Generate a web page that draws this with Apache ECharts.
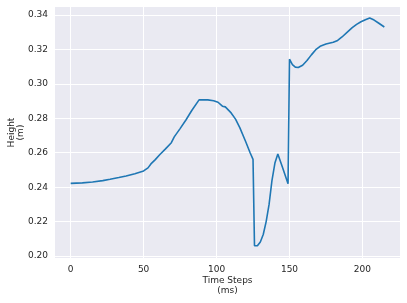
<!DOCTYPE html>
<html>
<head>
<meta charset="utf-8">
<script src="https://cdn.jsdelivr.net/npm/echarts@6/dist/echarts.min.js"></script>
<style>
html,body{margin:0;padding:0;background:#fff;}
#c{width:407px;height:303px;}
</style>
</head>
<body>
<div id="c"></div>
<script>
const timeSteps = [0, 8, 15, 22, 27, 33, 38, 44, 50, 53, 55, 58, 61, 65, 69, 71, 75, 79, 83, 88, 94, 98, 101, 104, 105, 106, 110, 113, 116, 120, 123, 125, 126, 128, 130, 132, 134, 136, 138, 140, 142, 145, 149, 150, 152, 154, 156, 159, 162, 165, 168, 171, 175, 180, 183, 186, 190, 193, 196, 199, 202, 205, 208, 211, 215];
const heights = [0.2422, 0.2425, 0.2430, 0.2438, 0.2446, 0.2456, 0.2465, 0.2478, 0.2494, 0.2512, 0.2535, 0.2560, 0.2588, 0.2622, 0.2658, 0.2692, 0.2740, 0.2790, 0.2845, 0.2907, 0.2907, 0.2902, 0.2893, 0.2870, 0.2872, 0.2866, 0.2831, 0.2795, 0.2744, 0.2664, 0.2600, 0.2561, 0.2060, 0.2060, 0.2082, 0.2125, 0.2200, 0.2300, 0.2440, 0.2540, 0.2592, 0.2520, 0.2420, 0.3143, 0.3112, 0.3097, 0.3095, 0.3108, 0.3135, 0.3168, 0.3198, 0.3218, 0.3231, 0.3241, 0.3252, 0.3272, 0.3303, 0.3326, 0.3345, 0.3360, 0.3372, 0.3382, 0.3370, 0.3353, 0.3330];
const xTicks = [0, 50, 100, 150, 200];
const yTicks = [0.20, 0.22, 0.24, 0.26, 0.28, 0.30, 0.32, 0.34];
const xLabel = 'Time Steps\n(ms)';
const yLabel = 'Height\n(m)';

const points = timeSteps.map((t, i) => [t, heights[i]]);
const txt = '#262626';
const font = 'DejaVu Sans';

const chart = echarts.init(document.getElementById('c'), null, {renderer: 'canvas'});
chart.setOption({
  animation: false,
  backgroundColor: '#ffffff',
  grid: {left: 55, right: 7, top: 7, bottom: 45, show: true, backgroundColor: '#EAEAF2', borderWidth: 0,
    containLabel: false, outerBoundsMode: 'none'},
  xAxis: {
    type: 'value',
    min: -10.75, max: 225.75,
    name: xLabel,
    nameLocation: 'middle',
    nameGap: 18,
    nameMoveOverlap: false,
    nameTextStyle: {color: txt, fontSize: 9, fontFamily: font, lineHeight: 10, verticalAlign: 'top'},
    axisLine: {show: false},
    axisTick: {show: false, customValues: xTicks},
    axisLabel: {customValues: xTicks, color: txt, fontSize: 9, fontFamily: font, margin: 7},
    splitLine: {show: true, lineStyle: {color: '#ffffff', width: 1}}
  },
  yAxis: {
    type: 'value',
    min: 0.19887, max: 0.3446,
    name: yLabel,
    nameLocation: 'middle',
    nameRotate: 90,
    nameGap: 30,
    nameMoveOverlap: false,
    nameTextStyle: {color: txt, fontSize: 9, fontFamily: font, lineHeight: 9},
    axisLine: {show: false},
    axisTick: {show: false, customValues: yTicks},
    axisLabel: {customValues: yTicks, color: txt, fontSize: 9, fontFamily: font, margin: 7,
      formatter: v => v.toFixed(2)},
    splitLine: {show: true, lineStyle: {color: '#ffffff', width: 1}}
  },
  series: [{
    type: 'line',
    data: points,
    showSymbol: false,
    symbol: 'none',
    lineStyle: {color: '#1f77b4', width: 1.6},
    itemStyle: {color: '#1f77b4'}
  }]
});
</script>
</body>
</html>
